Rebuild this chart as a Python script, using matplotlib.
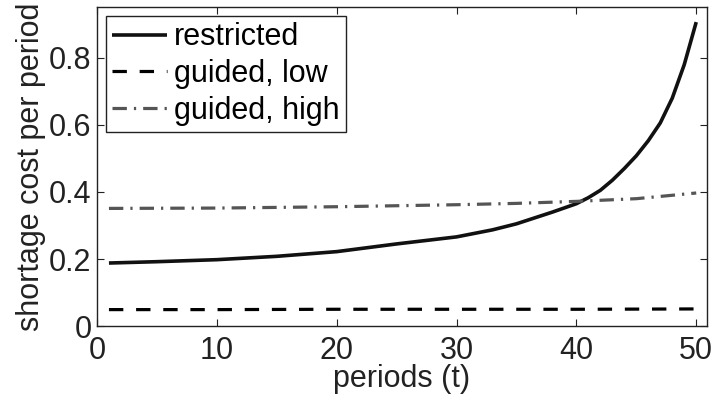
import matplotlib
matplotlib.use("Agg")
import matplotlib.pyplot as plt

plt.rcParams['font.family'] = ['Liberation Sans', 'DejaVu Sans']

# Shortage cost per period for each policy
t_restricted = [1, 5, 10, 15, 20, 25, 30, 33, 35, 38, 40, 41, 42, 43, 44, 45, 46, 47, 48, 49, 50]
restricted = [0.188, 0.192, 0.198, 0.208, 0.222, 0.245, 0.266, 0.287, 0.305, 0.340, 0.365,
              0.383, 0.405, 0.435, 0.470, 0.508, 0.553, 0.606, 0.680, 0.780, 0.907]

t_low = [1, 10, 20, 30, 40, 50]
guided_low = [0.049, 0.049, 0.050, 0.050, 0.050, 0.051]

t_high = [1, 10, 20, 30, 35, 40, 45, 50]
guided_high = [0.351, 0.352, 0.356, 0.362, 0.366, 0.372, 0.380, 0.397]

labels = ["restricted", "guided, low", "guided, high"]
x_ticks = [0, 10, 20, 30, 40, 50]
y_ticks = [0, 0.2, 0.4, 0.6, 0.8]

FS = 22

fig = plt.figure(figsize=(7.13, 4.03), dpi=100)
ax = fig.add_axes([0.136, 0.191, 0.8556, 0.7916])

ax.plot(t_restricted, restricted, color="#111111", lw=2.6, solid_capstyle="butt",
        label=labels[0])
ax.plot(t_low, guided_low, color="#000000", lw=2.3, dashes=(4.5, 4.0),
        dash_capstyle="butt", label=labels[1])
ax.plot(t_high, guided_high, color="#555555", lw=2.3, dashes=(4.5, 2.2, 0.7, 2.2),
        dash_capstyle="butt", label=labels[2])

ax.set_xlim(0, 50.9)
ax.set_ylim(0, 0.952)
ax.set_xticks(x_ticks)
ax.set_xticklabels([str(v) for v in x_ticks])
ax.set_yticks(y_ticks)
ax.set_yticklabels(["0", "0.2", "0.4", "0.6", "0.8"])

ax.tick_params(direction="in", length=5, width=0.8, top=True, right=True,
               labelsize=FS, colors="#222222")
ax.tick_params(axis="x", pad=7)
ax.tick_params(axis="y", pad=4)
for s in ax.spines.values():
    s.set_linewidth(1.0)
    s.set_color("#222222")

ax.set_xlabel("periods (t)", fontsize=FS, color="#222222", labelpad=-1)
ax.set_ylabel("shortage cost per period", fontsize=FS, color="#222222", labelpad=2)

leg = ax.legend(loc="upper left", fontsize=FS, frameon=True, fancybox=False,
                edgecolor="#222222", framealpha=1, borderpad=0.22,
                handlelength=1.8, handletextpad=0.22, labelspacing=0.22,
                borderaxespad=0.28)
leg.get_frame().set_linewidth(1.0)

fig.savefig("out.png", dpi=100)
